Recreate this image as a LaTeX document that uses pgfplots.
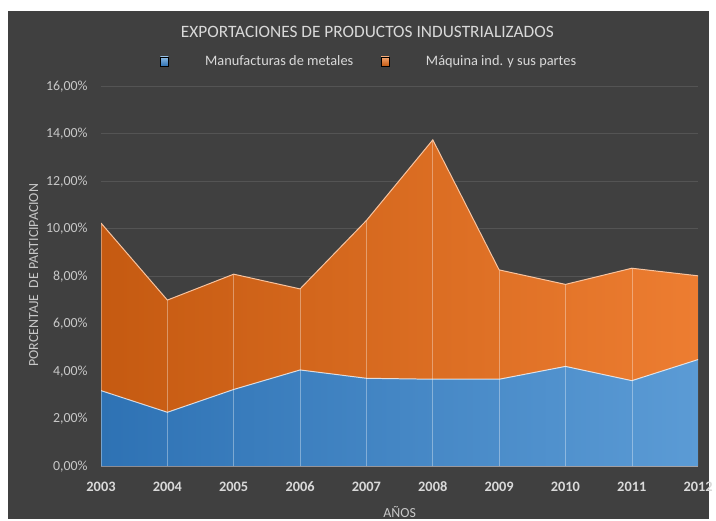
\documentclass[border=0pt]{standalone}
\usepackage{pgfplots}
\pgfplotsset{compat=1.18}
\usepackage{pgfplotstable}
\usepackage{fontspec}
\setmainfont{Carlito}
\definecolor{bgc}{RGB}{64,64,64}
\definecolor{gridc}{RGB}{84,84,84}
\definecolor{txtA}{RGB}{217,217,217}
\definecolor{txtB}{RGB}{200,200,200}
\definecolor{bA}{RGB}{46,114,180}
\definecolor{bB}{RGB}{91,155,213}
\definecolor{oA}{RGB}{197,90,17}
\definecolor{oB}{RGB}{237,125,49}
\definecolor{oLine}{RGB}{248,196,160}
\pgfplotstableread{
year blue orange
2003 3.19 7.05
2004 2.28 4.72
2005 3.24 4.85
2006 4.06 3.41
2007 3.71 6.64
2008 3.67 10.07
2009 3.67 4.60
2010 4.21 3.45
2011 3.61 4.73
2012 4.50 3.52
}\datatable
\begin{document}
\begin{tikzpicture}
\fill[white] (0pt,0pt) rectangle (716pt,524pt);
\fill[bgc] (8pt,0pt) rectangle (716pt,513pt);
\begin{axis}[
  at={(102pt,53pt)}, anchor=south west,
  scale only axis, width=603pt, height=384pt,
  xmin=2003, xmax=2012, ymin=0, ymax=16,
  axis x line*=bottom, axis y line*=left,
  x axis line style={draw=white!75!black, line width=0.6pt},
  y axis line style={draw=none},
  xtick={2003,2004,...,2012},
  ytick={0,2,...,16},
  ymajorgrids, grid style={draw=gridc, line width=0.8pt},
  major tick length=0pt,
  /pgf/number format/assume math mode=true,
  xticklabel style={/pgf/number format/1000 sep={}, font=\fontsize{14.5}{16}\selectfont\bfseries, text=txtA, yshift=-12pt},
  yticklabel={\pgfmathprintnumber[fixed,fixed zerofill,precision=2,use comma]{\tick}\%},
  yticklabel style={font=\fontsize{14}{16}\selectfont, text=txtB, xshift=-10pt},
  title={EXPORTACIONES DE PRODUCTOS INDUSTRIALIZADOS},
  title style={at={(axis description cs:0.446,1.128)}, anchor=center, font=\fontsize{17.5}{20}\selectfont, text=txtA},
  xlabel={AÑOS},
  xlabel style={at={(axis description cs:0.5,-0.12)}, anchor=center, font=\fontsize{14}{16}\selectfont, text=txtB},
  ylabel={PORCENTAJE\ \ DE PARTICIPACION},
  ylabel style={at={(axis description cs:-0.1128,0.503)}, anchor=center, font=\fontsize{14}{16}\selectfont, text=txtB},
  legend style={at={(axis description cs:0.449,1.065)}, anchor=center, draw=none, fill=none,
    text=txtA, font=\fontsize{14.5}{16}\selectfont, legend columns=2,
    /tikz/every odd column/.append style={column sep=35pt},
    /tikz/every even column/.append style={column sep=26pt}},
  legend cell align=left,
]
\addplot[draw=none, left color=oA, right color=oB, forget plot] table[x=year, y expr=\thisrow{blue}+\thisrow{orange}] {\datatable} \closedcycle;
\addplot[draw=none, left color=bA, right color=bB, forget plot] table[x=year, y=blue] {\datatable} \closedcycle;
\addplot[ycomb, draw=white, opacity=0.35, line width=0.6pt, mark=none, forget plot] table[x=year, y expr=\thisrow{blue}+\thisrow{orange}] {\datatable};
\addplot[draw=white, opacity=0.75, line width=1pt, mark=none, forget plot] table[x=year, y=blue] {\datatable};
\addplot[draw=oLine, line width=1pt, mark=none, forget plot] table[x=year, y expr=\thisrow{blue}+\thisrow{orange}] {\datatable};
\addlegendimage{legend image code/.code={\fill[top color=bB!70!white, bottom color=bA] (0pt,-4.5pt) rectangle (8pt,4.5pt);}}
\addlegendentry{Manufacturas de metales}
\addlegendimage{legend image code/.code={\fill[top color=oB!70!white, bottom color=oA] (0pt,-4.5pt) rectangle (8pt,4.5pt);}}
\addlegendentry{Máquina ind. y sus partes}
\end{axis}
\end{tikzpicture}
\end{document}
